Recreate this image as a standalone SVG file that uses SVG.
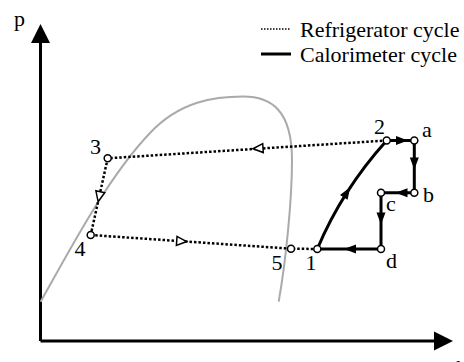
<svg xmlns="http://www.w3.org/2000/svg" width="464" height="362" viewBox="0 0 464 362">
<style>
.ax{stroke:#000;stroke-width:3;fill:none}
.dot{stroke:#000;stroke-width:2.5;stroke-dasharray:2.5 2;fill:none}
.ldot{stroke:#000;stroke-width:1.5;stroke-dasharray:1.5 1.5;fill:none}
.sol{stroke:#000;stroke-width:3;fill:none;stroke-linejoin:miter}
.dome{stroke:#aaaaaa;stroke-width:2;fill:none}
.pt{fill:#fff;stroke:#000;stroke-width:1.5}
.oa{fill:#fff;stroke:#000;stroke-width:1.5}
.fa{fill:#000}
text{font-family:"Liberation Serif","Times New Roman",serif;font-size:22px;fill:#000}
</style>
<defs>
<path id="fa" d="M6,0 L-6,-4.5 L-6,4.5 Z"/>
<path id="oa" d="M5,0 L-5,-4.5 L-5,4.5 Z"/>
</defs>
<g id="axes">
<path class="ax" d="M40.5,341 L40.5,42 M40.5,341 L435,341"/>
<path class="fa" d="M40.5,24 L31,43 L50,43 Z"/>
<path class="fa" d="M453,341 L434,331.5 L434,350.5 Z"/>
<text x="14" y="26">p</text>
<text x="456" y="375">h</text>
</g>
<g id="dome">
<path class="dome" d="M40.7,301.7 C75,240 110,175 150,133 C180,101 215,96.5 243,96.5 C271,96.5 292,110 292,160 C292,200 286,260 278.7,301.7"/>
</g>
<g id="connectors">
<path class="dot" d="M107.7,158.3 L90.7,235"/>
<path class="dot" d="M90.7,235 L291,248.7 L317.3,249"/>
<path class="dot" d="M386.7,140.5 L107.7,158.3"/>
<path class="sol" d="M317.3,249 Q342,190 386.7,140.5"/>
<path class="sol" d="M386.7,140.5 L414.3,140.5 L414.3,192.7 L381,192.7 L381,249 L317.3,249"/>
<use href="#oa" class="oa" transform="translate(99.2,196.7) rotate(102.5)"/>
<use href="#oa" class="oa" transform="translate(181.7,241.2) rotate(3.9)"/>
<use href="#oa" class="oa" transform="translate(258,148.4) rotate(176.3)"/>
<use href="#fa" class="fa" transform="translate(402,140.5)"/>
<use href="#fa" class="fa" transform="translate(414.3,163.5) rotate(90)"/>
<use href="#fa" class="fa" transform="translate(401.5,192.7) rotate(180)"/>
<use href="#fa" class="fa" transform="translate(381,218.5) rotate(90)"/>
<use href="#fa" class="fa" transform="translate(350,249) rotate(180)"/>
<use href="#fa" class="fa" transform="translate(347,192.3) rotate(-57.6)"/>
</g>
<g id="node-3"><circle class="pt" cx="107.7" cy="158.3" r="3.5"/><text x="90" y="154">3</text></g>
<g id="node-4"><circle class="pt" cx="90.7" cy="235" r="3.5"/><text x="74.5" y="256">4</text></g>
<g id="node-5"><circle class="pt" cx="291" cy="248.7" r="3.5"/><text x="271.5" y="270">5</text></g>
<g id="node-1"><circle class="pt" cx="317.3" cy="249" r="3.5"/><text x="305.5" y="270">1</text></g>
<g id="node-2"><circle class="pt" cx="386.7" cy="140.5" r="3.5"/><text x="374" y="134">2</text></g>
<g id="node-a"><circle class="pt" cx="414.3" cy="140.5" r="3.5"/><text x="422" y="137">a</text></g>
<g id="node-b"><circle class="pt" cx="414.3" cy="192.7" r="3.5"/><text x="423" y="201.7">b</text></g>
<g id="node-c"><circle class="pt" cx="381" cy="192.7" r="3.5"/><text x="386" y="210.7">c</text></g>
<g id="node-d"><circle class="pt" cx="381" cy="249" r="3.5"/><text x="386" y="268">d</text></g>
<g id="legend">
<path class="ldot" d="M261,29 L291,29"/>
<path class="sol" d="M261,54 L291,54"/>
<text x="300" y="37">Refrigerator cycle</text>
<text x="300" y="62">Calorimeter cycle</text>
</g>
</svg>
